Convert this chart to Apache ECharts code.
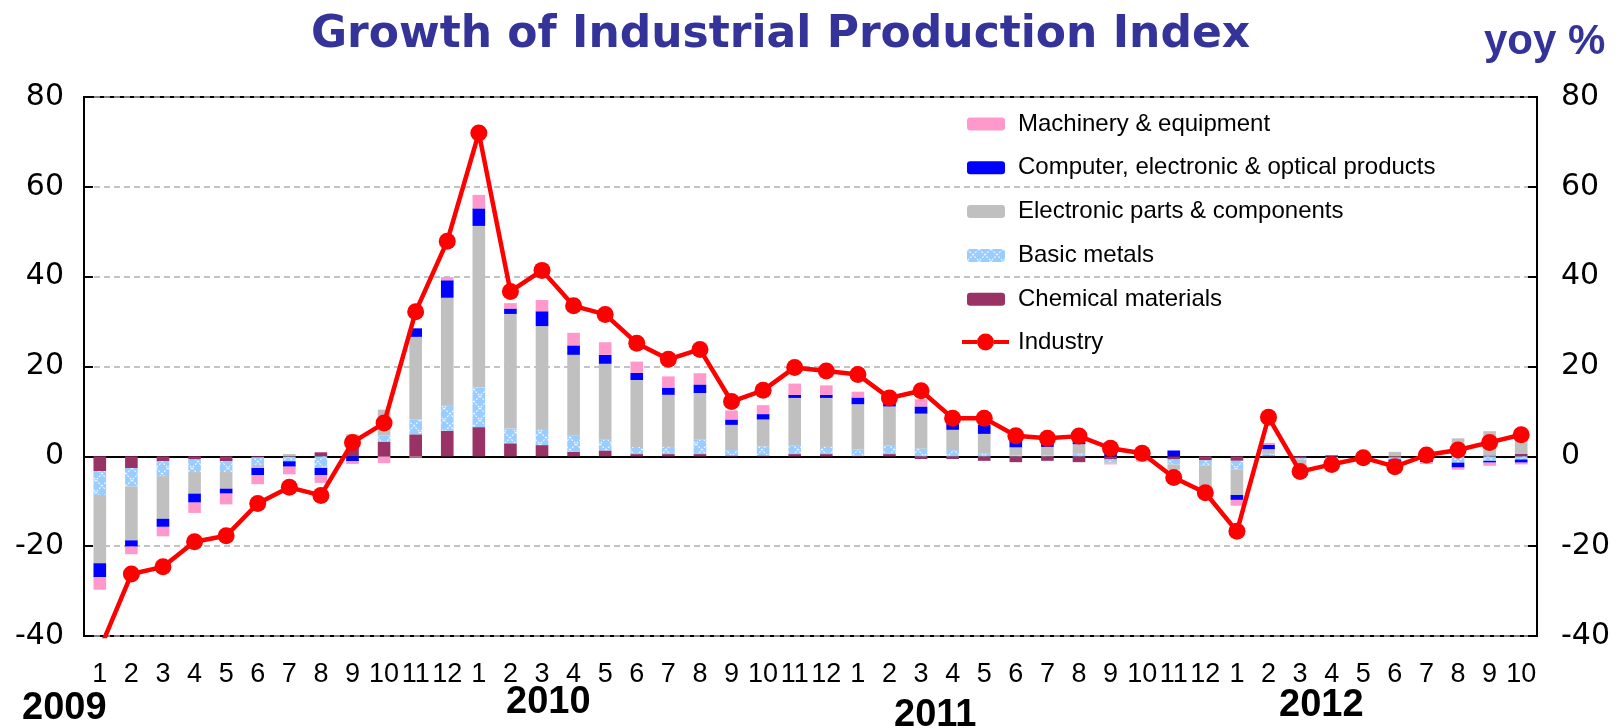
<!DOCTYPE html>
<html>
<head>
<meta charset="utf-8">
<script src="https://cdn.jsdelivr.net/npm/echarts@6/dist/echarts.min.js"></script>
<style>
html,body{margin:0;padding:0;background:#fff;}
#chart{width:1621px;height:728px;}
</style>
</head>
<body>
<div id="chart"></div>
<script>
// ---- data ----
var months = ['1','2','3','4','5','6','7','8','9','10','11','12',
              '1','2','3','4','5','6','7','8','9','10','11','12',
              '1','2','3','4','5','6','7','8','9','10','11','12',
              '1','2','3','4','5','6','7','8','9','10'];
var years = ['2009','2010','2011','2012'];
var yTicks = [-40, -20, 0, 20, 40, 60, 80];

var industry = [-43, -26.2, -24.6, -19.0, -17.7, -10.5, -6.9, -8.7, 3.1, 7.4, 32.2, 47.9,
                72.0, 36.7, 41.4, 33.5, 31.6, 25.2, 21.6, 23.8, 12.2, 14.7, 19.8, 19.0,
                18.2, 13.0, 14.6, 8.5, 8.5, 4.6, 4.0, 4.5, 1.8, 0.7, -4.7, -8.1,
                -16.7, 8.7, -3.4, -1.8, -0.3, -2.3, 0.3, 1.4, 3.1, 4.8];
var chemical = [-3.3, -2.6, -1.1, -0.7, -1.1, -0.2, -0.1, 0.9, 2.6, 3.2, 4.9, 5.7,
                6.5, 2.9, 2.5, 1.0, 1.3, 0.5, 0.5, 0.5, 0.2, 0.2, 0.5, 0.5,
                0.1, 0.5, -0.6, -0.6, -1.0, -1.3, -1.0, -1.3, -0.7, -0.2, -0.7, -0.9,
                -1.0, 0.2, -0.4, -0.2, 0.1, -0.2, -0.1, 0.2, 0.2, 0.6];
var basicMetals = [-5.3, -4.1, -3.3, -2.8, -2.4, -1.7, -1.0, -2.6, 0.2, 1.4, 3.3, 5.7,
                   8.8, 3.3, 3.6, 3.6, 2.4, 1.6, 1.6, 3.2, 1.2, 2.0, 2.0, 1.6,
                   1.4, 2.0, 1.7, 1.4, 0.7, 0.2, 0.2, 0.7, -0.6, -0.2, -1.1, -1.1,
                   -1.9, 0.5, -0.3, -0.3, -0.2, -0.5, -0.5, -1.4, -1.0, -0.7];
var electronicParts = [-15.2, -12.0, -9.5, -4.8, -3.7, -0.7, 0.5, 0, 2.1, 5.8, 18.4, 23.9,
                       36.0, 25.5, 22.9, 18.0, 16.9, 14.9, 11.6, 10.4, 5.6, 6.0, 10.5, 10.9,
                       10.1, 8.6, 7.8, 4.5, 4.3, 1.8, 1.9, 2.0, -0.3, -0.5, -1.1, -5.5,
                       -5.7, 0.9, -2.0, -0.5, 0.3, 1.0, 0.7, 3.8, 5.4, 3.2];
var computer = [-3.1, -1.4, -1.8, -2.0, -1.1, -1.6, -1.2, -1.6, -1.1, 0, 1.9, 3.9,
                3.9, 1.2, 3.3, 2.1, 2.0, 1.6, 1.6, 1.9, 1.2, 1.2, 0.7, 0.7,
                1.5, 0.7, 1.6, 1.5, 2.0, 1.5, 1.3, 0.6, 0.8, 0.2, 1.3, -0.5,
                -1.1, 1.0, -0.2, 0.2, -0.3, -0.4, -0.7, -1.1, -0.4, -0.7];
var machinery = [-2.8, -1.7, -2.1, -2.3, -2.4, -2.0, -1.7, -1.7, -0.6, -1.5, -0.3, 0.7,
                 3.0, 1.2, 2.5, 2.8, 2.8, 2.5, 2.5, 2.5, 2.0, 2.0, 2.5, 2.1,
                 1.3, 0.4, 1.6, 0.5, 0.3, 0.2, 0.2, 0.1, -0.2, -0.3, -0.2, -0.3,
                 -1.3, 0.4, -0.2, -0.2, -0.2, -0.3, -0.4, -0.5, -0.7, -0.4];

var names = {
  mach: 'Machinery & equipment',
  comp: 'Computer, electronic & optical products',
  elec: 'Electronic parts & components',
  basic: 'Basic metals',
  chem: 'Chemical materials',
  ind: 'Industry'
};

// pattern for basic metals
var pc = document.createElement('canvas');
pc.width = 12; pc.height = 12;
var g = pc.getContext('2d');
g.fillStyle = '#99CCFF'; g.fillRect(0, 0, 12, 12);
g.strokeStyle = 'rgba(255,255,255,0.85)'; g.lineWidth = 1.2;
g.setLineDash([2, 1.5]);
g.beginPath(); g.moveTo(0, 0); g.lineTo(12, 12); g.moveTo(12, 0); g.lineTo(0, 12); g.stroke();
var basicPattern = { image: pc, repeat: 'repeat' };

var FONT = '"Liberation Sans", Arial, sans-serif';
var WIDE = '"DejaVu Sans", sans-serif';
var chart = echarts.init(document.getElementById('chart'), null, { renderer: 'canvas' });

function barSeries(name, data, color) {
  return {
    name: name, type: 'bar', stack: 'total', data: data,
    barWidth: '40%', itemStyle: { color: color },
    emphasis: { disabled: true }
  };
}

var lineIcon = 'path://M0,6.5 L15,6.5 L15,10.5 L0,10.5 Z M32,6.5 L47,6.5 L47,10.5 L32,10.5 Z ' +
               'M15,8.5 A8.5,8.5 0 1 1 32,8.5 A8.5,8.5 0 1 1 15,8.5 Z';

var option = {
  animation: false,
  backgroundColor: '#ffffff',
  title: [
    { text: 'Growth of Industrial Production Index', left: 306, top: 9,
      textStyle: { fontFamily: WIDE, fontSize: 44, fontWeight: 'bold', color: '#333399' } },
    { text: 'yoy %', left: 1479, top: 16,
      textStyle: { fontFamily: FONT, fontSize: 42, fontWeight: 'bold', color: '#333399' } }
  ],
  legend: [
    { orient: 'vertical', left: 962, top: 107,
      itemWidth: 38, itemHeight: 13, itemGap: 19.8,
      data: [names.mach, names.comp, names.elec, names.basic, names.chem],
      textStyle: { fontFamily: FONT, fontSize: 24, color: '#000', padding: [0, 0, 0, 8] },
      selectedMode: false },
    { orient: 'vertical', left: 957, top: 325,
      itemWidth: 47, itemHeight: 17,
      data: [{ name: names.ind, icon: lineIcon, itemStyle: { color: '#FF0000' } }],
      textStyle: { fontFamily: FONT, fontSize: 24, color: '#000', padding: [0, 0, 0, 4] },
      selectedMode: false }
  ],
  grid: { left: 84, right: 84, top: 97, bottom: 92, show: true,
          borderColor: '#000', borderWidth: 2, backgroundColor: 'transparent' },
  xAxis: [
    { type: 'category', data: months, position: 'bottom',
      axisLine: { onZero: true, lineStyle: { color: '#000', width: 2 } },
      axisTick: { inside: true, length: 8, interval: 0, lineStyle: { color: '#000', width: 2 } },
      axisLabel: { show: false }, splitLine: { show: false } },
    { type: 'category', data: months, position: 'bottom',
      axisLine: { show: false, onZero: false }, axisTick: { show: false },
      axisLabel: { interval: 0, fontFamily: FONT, fontSize: 27, color: '#000', margin: 25 } }
  ],
  yAxis: [
    { type: 'value', min: yTicks[0], max: yTicks[yTicks.length - 1], interval: 20, position: 'left',
      axisLine: { show: false },
      axisTick: { show: true, inside: true, length: 9, lineStyle: { color: '#000', width: 2 } },
      axisLabel: { fontFamily: WIDE, fontSize: 30, color: '#000', margin: 20 },
      splitLine: { show: true, lineStyle: { color: '#b0b0b0', type: [6, 4], width: 1.5 } } },
    { type: 'value', min: yTicks[0], max: yTicks[yTicks.length - 1], interval: 20, position: 'right',
      axisLine: { show: false },
      axisTick: { show: true, inside: true, length: 9, lineStyle: { color: '#000', width: 2 } },
      axisLabel: { fontFamily: WIDE, fontSize: 30, color: '#000', margin: 24 },
      splitLine: { show: false } }
  ],
  series: [
    barSeries(names.chem, chemical, '#993366'),
    barSeries(names.basic, basicMetals, basicPattern),
    barSeries(names.elec, electronicParts, '#C0C0C0'),
    barSeries(names.comp, computer, '#0000FF'),
    barSeries(names.mach, machinery, '#FF99CC'),
    { name: names.ind, type: 'line', data: industry, z: 5, clip: true,
      symbol: 'circle', symbolSize: 17,
      lineStyle: { color: '#FF0000', width: 4.5 },
      itemStyle: { color: '#FF0000' },
      emphasis: { disabled: true } }
  ],
  graphic: [
    { type: 'text', left: 22, top: 690, style: { text: years[0], font: 'bold 38px ' + FONT, fill: '#000' } },
    { type: 'text', left: 506, top: 684, style: { text: years[1], font: 'bold 38px ' + FONT, fill: '#000' } },
    { type: 'text', left: 894, top: 697, style: { text: years[2], font: 'bold 38px ' + FONT, fill: '#000' } },
    { type: 'text', left: 1279, top: 687, style: { text: years[3], font: 'bold 38px ' + FONT, fill: '#000' } }
  ]
};
chart.setOption(option);
</script>
</body>
</html>
